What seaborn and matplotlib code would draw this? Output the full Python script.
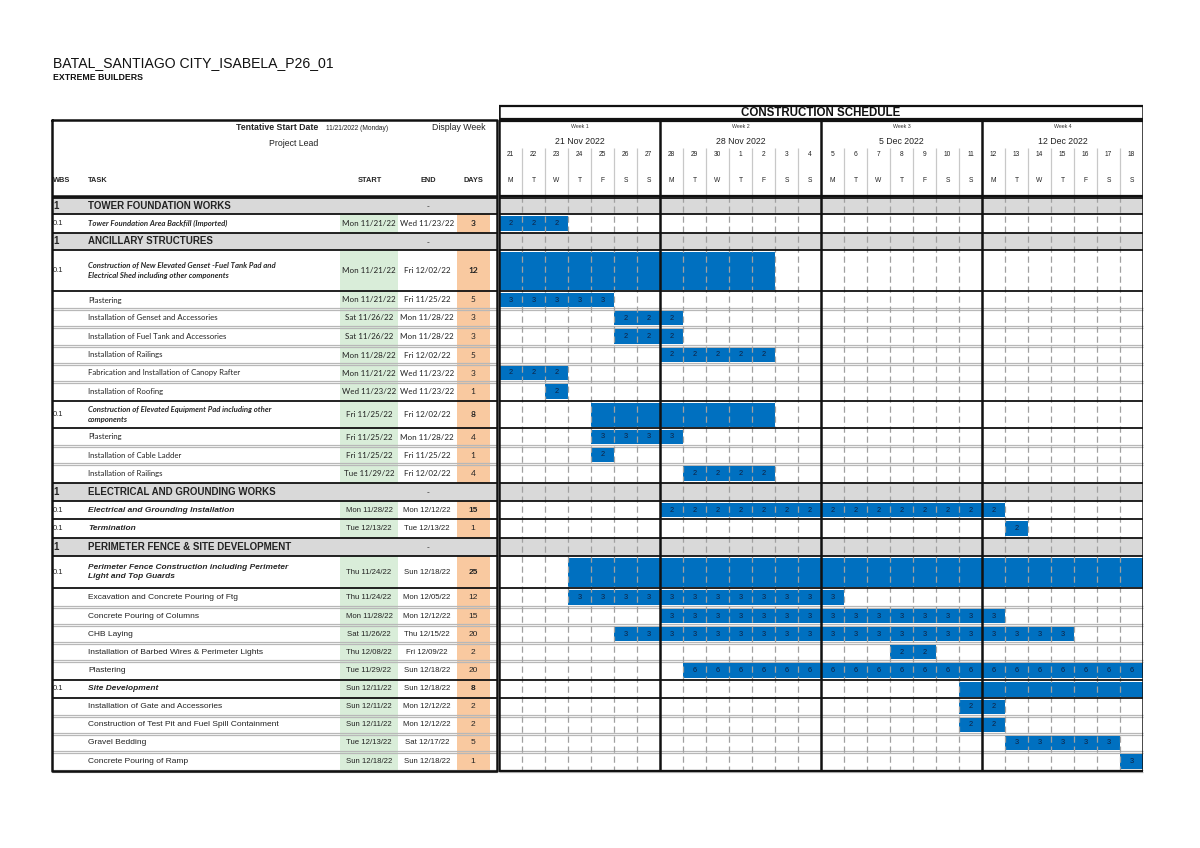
import matplotlib
matplotlib.use("Agg")
import matplotlib.pyplot as plt
import seaborn as sns
import pandas as pd

# ---------------- data ----------------
project_title = "BATAL_SANTIAGO CITY_ISABELA_P26_01"
company = "EXTREME BUILDERS"
schedule_title = "CONSTRUCTION SCHEDULE"
week_labels = ["Week 1", "Week 2", "Week 3", "Week 4"]
week_dates = ["21 Nov 2022", "28 Nov 2022", "5 Dec 2022", "12 Dec 2022"]
day_numbers = [21, 22, 23, 24, 25, 26, 27, 28, 29, 30, 1, 2, 3, 4,
               5, 6, 7, 8, 9, 10, 11, 12, 13, 14, 15, 16, 17, 18]
day_letters = ["M", "T", "W", "T", "F", "S", "S"] * 4

row_kind = ["section", "summary", "section", "summary", "task", "task", "task",
            "task", "task", "task", "summary", "task", "task", "task",
            "section", "summary", "summary", "section", "summary", "task",
            "task", "task", "task", "task", "summary", "task", "task", "task",
            "task"]
wbs = ["1", "0.1", "1", "0.1", "", "", "", "", "", "", "0.1", "", "", "",
       "1", "0.1", "0.1", "1", "0.1", "", "", "", "", "", "0.1", "", "", "", ""]
task_names = [
    "TOWER FOUNDATION WORKS",
    "Tower Foundation Area Backfill (Imported)",
    "ANCILLARY STRUCTURES",
    "Construction of New Elevated Genset -Fuel Tank Pad and\nElectrical Shed including other components",
    "Plastering",
    "Installation of Genset and Accessories",
    "Installation of Fuel Tank and Accessories",
    "Installation of Railings",
    "Fabrication and Installation of Canopy Rafter",
    "Installation of Roofing",
    "Construction of Elevated Equipment Pad including other\ncomponents",
    "Plastering",
    "Installation of Cable Ladder",
    "Installation of Railings",
    "ELECTRICAL AND GROUNDING WORKS",
    "Electrical and Grounding Installation",
    "Termination",
    "PERIMETER FENCE & SITE DEVELOPMENT",
    "Perimeter Fence Construction including Perimeter\nLight and Top Guards",
    "Excavation and Concrete Pouring of Ftg",
    "Concrete Pouring of Columns",
    "CHB Laying",
    "Installation of Barbed Wires & Perimeter Lights",
    "Plastering",
    "Site Development",
    "Installation of Gate and Accessories",
    "Construction of Test Pit and Fuel Spill Containment",
    "Gravel Bedding",
    "Concrete Pouring of Ramp",
]
start_dates = ["", "Mon 11/21/22", "", "Mon 11/21/22", "Mon 11/21/22", "Sat 11/26/22",
               "Sat 11/26/22", "Mon 11/28/22", "Mon 11/21/22", "Wed 11/23/22",
               "Fri 11/25/22", "Fri 11/25/22", "Fri 11/25/22", "Tue 11/29/22", "",
               "Mon 11/28/22", "Tue 12/13/22", "", "Thu 11/24/22", "Thu 11/24/22",
               "Mon 11/28/22", "Sat 11/26/22", "Thu 12/08/22", "Tue 11/29/22",
               "Sun 12/11/22", "Sun 12/11/22", "Sun 12/11/22", "Tue 12/13/22",
               "Sun 12/18/22"]
end_dates = ["-", "Wed 11/23/22", "-", "Fri 12/02/22", "Fri 11/25/22", "Mon 11/28/22",
             "Mon 11/28/22", "Fri 12/02/22", "Wed 11/23/22", "Wed 11/23/22",
             "Fri 12/02/22", "Mon 11/28/22", "Fri 11/25/22", "Fri 12/02/22", "-",
             "Mon 12/12/22", "Tue 12/13/22", "-", "Sun 12/18/22", "Mon 12/05/22",
             "Mon 12/12/22", "Thu 12/15/22", "Fri 12/09/22", "Sun 12/18/22",
             "Sun 12/18/22", "Mon 12/12/22", "Mon 12/12/22", "Sat 12/17/22",
             "Sun 12/18/22"]
duration_days = [None, 3, None, 12, 5, 3, 3, 5, 3, 1, 8, 4, 1, 4, None, 15, 1,
                 None, 25, 12, 15, 20, 2, 20, 8, 2, 2, 5, 1]
# bar start = day offset from Mon 21 Nov 2022
bar_start = [None, 0, None, 0, 0, 5, 5, 7, 0, 2, 4, 4, 4, 8, None, 7, 22,
             None, 3, 3, 7, 5, 17, 8, 20, 20, 20, 22, 27]
# number written in every day cell of the bar (0 = plain summary bar)
cell_value = [None, 2, None, 0, 3, 2, 2, 2, 2, 2, 0, 3, 2, 2, None, 2, 2,
              None, 0, 3, 3, 3, 2, 6, 0, 2, 2, 3, 3]
bold_days = [False, True, False, True, False, False, False, False, False, False,
             True, False, False, False, False, True, False, False, True, False,
             False, False, False, False, True, False, False, False, False]

# ---------------- layout (pixels) ----------------
W, H = 1200, 848
row_heights = [16, 19, 17, 41, 18, 18, 19, 18, 18, 19, 27, 18, 18, 19, 18, 18,
               19, 18, 32, 19, 18, 18, 18, 19, 18, 18, 18, 18, 19]
Y0 = 198
tops = []
y = Y0
for h in row_heights:
    tops.append(y)
    y += h
bottoms = [t + h for t, h in zip(tops, row_heights)]
centers = [(t + b) / 2 for t, b in zip(tops, bottoms)]
TABLE_L, TABLE_R = 52, 497
GANTT_L, GANTT_R = 499, 1143
HEAD_TOP = 120
HEAD_BOT = 196
BOTTOM = bottoms[-1]

BLUE = "#0070C0"
GRAY_FILL = "#D9D9D9"
GREEN = "#D9EDD9"
ORANGE = "#F9C9A0"
LINE_GRAY = "#B8B8B8"

calibri_rows = set(range(1, 14)) - {2}
ARIAL = ["Liberation Sans", "DejaVu Sans"]
CALI = ["Lato", "DejaVu Sans"]

sns.set_theme(style="white")
plt.rcParams["font.family"] = ARIAL

df = pd.DataFrame({"kind": row_kind, "wbs": wbs, "task": task_names,
                   "start": start_dates, "end": end_dates, "days": duration_days,
                   "bar_start": bar_start, "value": cell_value, "bold": bold_days,
                   "top": tops, "bottom": bottoms, "center": centers,
                   "height": row_heights})

fig = plt.figure(figsize=(W / 100, H / 100), dpi=100)
ax = fig.add_axes([0, 0, 1, 1])
ax.set_xlim(0, W)
ax.set_ylim(H, 0)
ax.axis("off")

gx = fig.add_axes([GANTT_L / W, 0, (GANTT_R - GANTT_L) / W, 1])
gx.set_xlim(0, 28)
gx.set_ylim(H, 0)
gx.axis("off")
gx.patch.set_alpha(0)

# ---- titles
ax.text(53, 63, project_title, fontsize=10.1, va="center", ha="left", color="#111")
ax.text(53, 78, company, fontsize=6.3, fontweight="bold", va="center", ha="left",
        color="#111")

# ---- left table header
ax.text(318, 128, "Tentative Start Date", fontsize=6.3, fontweight="bold",
        ha="right", va="center")
ax.text(326, 128, "11/21/2022 (Monday)", fontsize=4.8, ha="left", va="center")
ax.text(486, 128, "Display Week", fontsize=6.3, ha="right", va="center", color="#222")
ax.text(318, 143, "Project Lead", fontsize=6.3, ha="right", va="center", color="#222")
for lbl, x, ha in [("WBS", 53, "left"), ("TASK", 88, "left"), ("START", 370, "center"),
                   ("END", 428, "center"), ("DAYS", 473, "center")]:
    ax.text(x, 180, lbl, fontsize=5.3, fontweight="bold", ha=ha, va="center")

# ---- left table column fills
for _, r in df.iterrows():
    if r.kind == "section":
        ax.fill_between([TABLE_L, TABLE_R], r.top, r.bottom, color=GRAY_FILL, lw=0)
    else:
        ax.fill_between([340, 398], r.top, r.bottom, color=GREEN, lw=0)
        ax.fill_between([457, 490], r.top, r.bottom, color=ORANGE, lw=0)

# ---- left table texts
for i, r in df.iterrows():
    fam = CALI if i in calibri_rows else ARIAL
    if r.kind == "section":
        ax.text(53, r.center, r.wbs, fontsize=7, fontweight="bold", ha="left",
                va="center")
        ax.text(88, r.center, r.task, fontsize=7, fontweight="bold", ha="left",
                va="center", color="#222")
        ax.text(428, r.center + 1, r.end, fontsize=6, ha="center", va="center")
        continue
    if r.wbs:
        ax.text(53, r.center, r.wbs, fontsize=5.5, ha="left", va="center")
    if r.kind == "summary":
        ax.text(88, r.center, r.task, fontsize=5.6 if fam is CALI else 6.0,
                fontweight="bold", fontstyle="italic", ha="left", va="center",
                family=fam, linespacing=1.5)
    else:
        ax.text(88, r.center, r.task, fontsize=5.6 if fam is CALI else 6.0,
                ha="left", va="center", family=fam, color="#222")
    fs = 5.8 if fam is CALI else 5.6
    ax.text(369, r.center, r.start, fontsize=fs, ha="center", va="center",
            family=fam, color="#222")
    ax.text(427, r.center, r.end, fontsize=fs, ha="center", va="center",
            family=fam, color="#222")
    ax.text(473, r.center, str(int(r.days)), fontsize=6,
            fontweight="bold" if r.bold else "normal", ha="center", va="center",
            family=fam, color="#222")

# ---- horizontal row separators (both table and gantt)
black_edges = set()
for i, r in df.iterrows():
    if r.kind in ("section", "summary"):
        black_edges.add(r.top)
        black_edges.add(r.bottom)
for i, r in df.iterrows():
    b = r.bottom
    if b in black_edges:
        continue
    for dy in (-1.2, 1.0):
        ax.hlines(b + dy, TABLE_L, TABLE_R, color=LINE_GRAY, lw=0.9, zorder=3)
        ax.hlines(b + dy, GANTT_L, GANTT_R, color=LINE_GRAY, lw=0.9, zorder=6)
for e in sorted(black_edges):
    ax.hlines(e, TABLE_L, TABLE_R, color="#111", lw=1.3, zorder=4)

# ---- left table border
ax.plot([TABLE_L, TABLE_R, TABLE_R, TABLE_L, TABLE_L],
        [HEAD_TOP, HEAD_TOP, BOTTOM, BOTTOM, HEAD_TOP], color="#111", lw=1.8,
        zorder=5)
ax.hlines(HEAD_BOT, TABLE_L, TABLE_R, color="#111", lw=1.8, zorder=5)

# ---------------- gantt ----------------
# section fills
for _, r in df[df.kind == "section"].iterrows():
    gx.fill_between([0, 28], r.top, r.bottom, color=GRAY_FILL, lw=0, zorder=1)

# bars
tasks = df[df.bar_start.notna()]
for _, r in tasks.iterrows():
    if r.value == 0:
        gx.barh(r.center + 0.5, r.days, left=r.bar_start, height=r.height - 3,
                color=BLUE, lw=0, zorder=2)
    else:
        gx.barh(r.center, r.days, left=r.bar_start, height=r.height - 4,
                color=BLUE, lw=0, zorder=2)
        for d in range(int(r.days)):
            gx.text(r.bar_start + d + 0.5, r.center, str(int(r.value)),
                    fontsize=5.3, ha="center", va="center", color="#102040",
                    zorder=8)

# day grid (dashed) in body
day_lines = [d for d in range(1, 28) if d % 7 != 0]
gx.vlines(day_lines, HEAD_BOT, BOTTOM, colors="#A0A0A0", lw=0.9,
          linestyles=(0, (5, 3)), zorder=5)
# day grid in header
gx.vlines(day_lines, 148, HEAD_BOT, colors="#C8C8C8", lw=0.9, zorder=5)

# horizontal black edges in gantt
for e in sorted(black_edges):
    gx.hlines(e, 0, 28, color="#111", lw=1.3, zorder=7)

# week lines & border
gx.vlines([0, 7, 14, 21, 28], HEAD_TOP, BOTTOM, colors="#111", lw=1.8, zorder=9)
gx.vlines([0, 28], 106, HEAD_TOP, colors="#111", lw=1.8, zorder=9)
gx.hlines([106, HEAD_TOP - 1, HEAD_TOP + 1, HEAD_BOT, BOTTOM], 0, 28,
          colors="#111", lw=1.6, zorder=9)

# header texts
gx.text(14, 112.5, schedule_title, fontsize=8.3, fontweight="bold", ha="center",
        va="center", color="#111")
for w in range(4):
    gx.text(w * 7 + 3.5, 127, week_labels[w], fontsize=3.8, ha="center",
            va="center", color="#333")
    gx.text(w * 7 + 3.5, 142, week_dates[w], fontsize=6.3, ha="center",
            va="center", color="#222")
for d in range(28):
    gx.text(d + 0.5, 155, str(day_numbers[d]), fontsize=4.8, ha="center",
            va="center", color="#222")
    gx.text(d + 0.5, 180, day_letters[d], fontsize=4.8, ha="center",
            va="center", color="#222")

fig.savefig("out.png", dpi=100, facecolor="white")
